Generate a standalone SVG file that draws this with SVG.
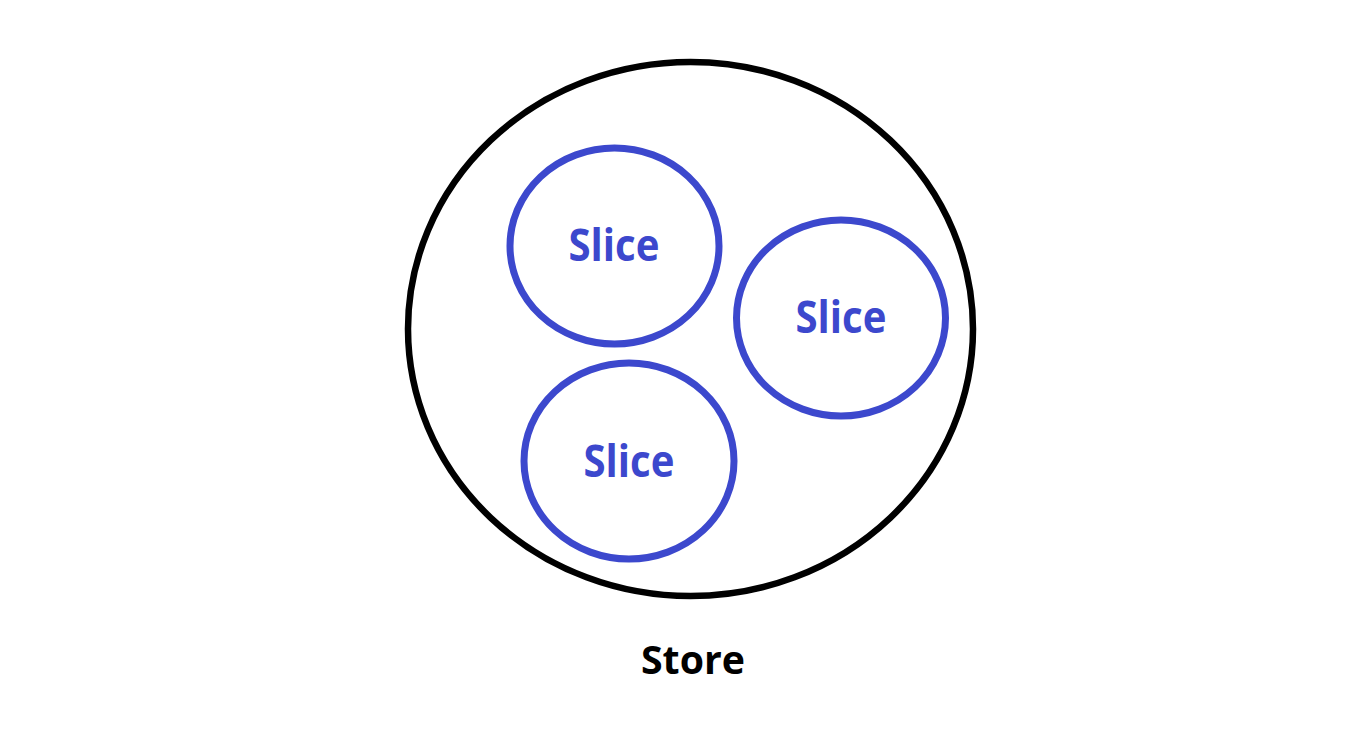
<svg xmlns="http://www.w3.org/2000/svg" width="1362" height="745" viewBox="0 0 1362 745">
<style>
.store{fill:none;stroke:#000;stroke-width:6.5}
.slice{fill:none;stroke:#3c48cd;stroke-width:7}
.sl{font-family:"Open Sans","Noto Sans",sans-serif;font-weight:bold;font-size:44px;fill:#3c48cd;text-anchor:middle}
.st{font-family:"Open Sans","Noto Sans",sans-serif;font-weight:bold;font-size:40px;fill:#000;text-anchor:middle}
</style>
<rect width="1362" height="745" fill="#fff"/>
<g id="store">
<ellipse class="store" cx="690.5" cy="329" rx="282.5" ry="267"/>
<text class="st" x="693" y="674" textLength="104" lengthAdjust="spacingAndGlyphs">Store</text>
</g>
<g id="slice1">
<ellipse class="slice" cx="614.5" cy="246" rx="104.5" ry="98"/>
<text class="sl" x="614" y="261" textLength="91" lengthAdjust="spacingAndGlyphs">Slice</text>
</g>
<g id="slice2">
<ellipse class="slice" cx="841" cy="318" rx="104.5" ry="98"/>
<text class="sl" x="841" y="333" textLength="91" lengthAdjust="spacingAndGlyphs">Slice</text>
</g>
<g id="slice3">
<ellipse class="slice" cx="629" cy="461" rx="105" ry="98"/>
<text class="sl" x="629" y="477" textLength="91" lengthAdjust="spacingAndGlyphs">Slice</text>
</g>
<g id="connectors"></g>
</svg>
